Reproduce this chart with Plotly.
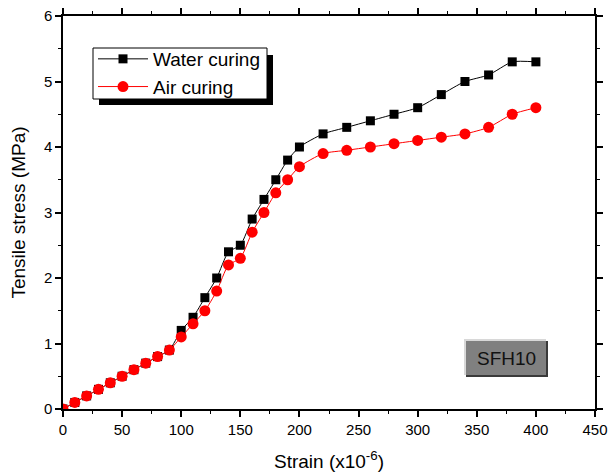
import plotly.graph_objects as go

strain_water = [0, 10, 20, 30, 40, 50, 60, 70, 80, 90, 100, 110, 120, 130, 140, 150, 160, 170, 180, 190, 200,
                220, 240, 260, 280, 300, 320, 340, 360, 380, 400]
stress_water = [0, 0.1, 0.2, 0.3, 0.4, 0.5, 0.6, 0.7, 0.8, 0.9, 1.2, 1.4, 1.7, 2.0, 2.4, 2.5, 2.9, 3.2, 3.5, 3.8, 4.0,
                4.2, 4.3, 4.4, 4.5, 4.6, 4.8, 5.0, 5.1, 5.3, 5.3]
strain_air = [0, 10, 20, 30, 40, 50, 60, 70, 80, 90, 100, 110, 120, 130, 140, 150, 160, 170, 180, 190, 200,
              220, 240, 260, 280, 300, 320, 340, 360, 380, 400]
stress_air = [0, 0.1, 0.2, 0.3, 0.4, 0.5, 0.6, 0.7, 0.8, 0.9, 1.1, 1.3, 1.5, 1.8, 2.2, 2.3, 2.7, 3.0, 3.3, 3.5, 3.7,
              3.9, 3.95, 4.0, 4.05, 4.1, 4.15, 4.2, 4.3, 4.5, 4.6]

W, H = 609, 473
L, R, T, B = 63, 14, 16, 64
PW, PH = W - L - R, H - T - B

def px(x):
    return (x - L) / PW

def py(y):
    return (H - B - y) / PH

FONT = "Liberation Sans, Arial, sans-serif"

fig = go.Figure()
fig.add_trace(go.Scatter(x=strain_water, y=stress_water, name="Water curing", mode="lines+markers",
                         line=dict(color="black", width=1, shape="spline", smoothing=0.6),
                         marker=dict(symbol="square", size=9, color="black")))
fig.add_trace(go.Scatter(x=strain_air, y=stress_air, name="Air curing", mode="lines+markers",
                         line=dict(color="red", width=1, shape="spline", smoothing=0.6),
                         marker=dict(symbol="circle", size=11, color="red")))

axis_common = dict(showline=True, linecolor="black", linewidth=1.5, mirror="allticks",
                   ticks="outside", ticklen=6, tickwidth=1.5, tickcolor="black",
                   showgrid=False, zeroline=False, automargin=False,
                   tickfont=dict(family=FONT, size=15, color="black"))

fig.update_xaxes(range=[0, 450], dtick=50, tick0=0,
                 minor=dict(dtick=25, ticks="outside", ticklen=3, tickwidth=1.2, tickcolor="black"),
                 title=dict(text="Strain (x10<sup>-6</sup>)", font=dict(family=FONT, size=19, color="black"), standoff=18),
                 **axis_common)
fig.update_yaxes(range=[0, 6], dtick=1, tick0=0,
                 minor=dict(dtick=0.5, ticks="outside", ticklen=3, tickwidth=1.2, tickcolor="black"),
                 title=dict(text="Tensile stress (MPa)", font=dict(family=FONT, size=19, color="black"), standoff=13),
                 **axis_common)

shapes = []
# legend shadow and frame
shapes.append(dict(type="rect", xref="paper", yref="paper",
                   x0=px(99), x1=px(273), y0=py(105), y1=py(55),
                   fillcolor="black", line=dict(width=0), layer="above"))
shapes.append(dict(type="rect", xref="paper", yref="paper",
                   x0=px(93), x1=px(267), y0=py(99), y1=py(48),
                   fillcolor="white", line=dict(width=1, color="black"), layer="above"))
# SFH10 bevel box
shapes.append(dict(type="rect", xref="paper", yref="paper", x0=px(466), x1=px(548), y0=py(377), y1=py(341),
                   fillcolor="#3a3a3a", line=dict(width=0), layer="above"))
shapes.append(dict(type="rect", xref="paper", yref="paper", x0=px(464), x1=px(546), y0=py(375), y1=py(339),
                   fillcolor="#d8d8d8", line=dict(width=0), layer="above"))
shapes.append(dict(type="rect", xref="paper", yref="paper", x0=px(466), x1=px(546), y0=py(375), y1=py(341),
                   fillcolor="#808080", line=dict(width=0), layer="above"))

fig.update_layout(
    width=W, height=H,
    margin=dict(l=L, r=R, t=T, b=B),
    paper_bgcolor="white", plot_bgcolor="white",
    font=dict(family=FONT, color="black"),
    shapes=shapes,
    showlegend=True,
    legend=dict(x=px(93), y=py(40), xanchor="left", yanchor="top",
                bgcolor="rgba(0,0,0,0)", borderwidth=0,
                font=dict(family=FONT, size=19, color="black"),
                itemwidth=50, tracegroupgap=0),
    annotations=[dict(text="SFH10", xref="paper", yref="paper", x=px(506), y=py(358),
                      xanchor="center", yanchor="middle",
                      showarrow=False, font=dict(family=FONT, size=19, color="#111111"))],
)

fig.write_html("out.html")
